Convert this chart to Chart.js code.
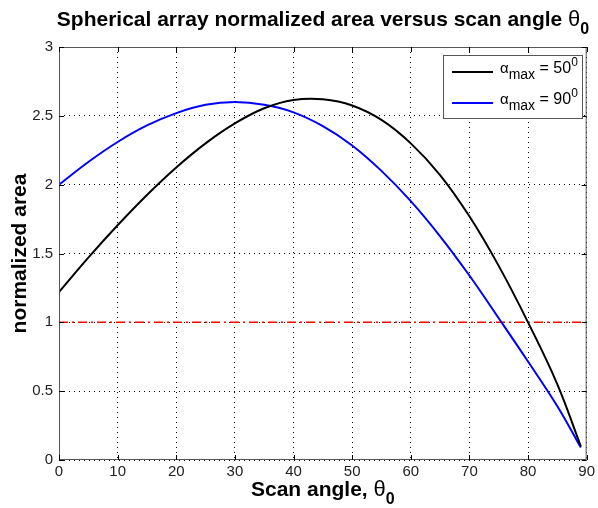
<!DOCTYPE html>
<html>
<head>
<meta charset="utf-8">
<script src="https://cdn.jsdelivr.net/npm/chart.js@4"></script>
<style>
  html, body { margin: 0; padding: 0; background: #fff; }
  #wrap { width: 598px; height: 508px; position: relative; }
</style>
</head>
<body>
<div id="wrap"><canvas id="chart" width="598" height="508"></canvas></div>
<script>
// Scan angle theta0 (degrees)
const angles = [0, 5, 10, 15, 20, 25, 30, 35, 40, 45, 50, 55, 60, 65, 70, 75, 80, 85, 89];
// normalized area, alpha_max = 50 deg
const area50 = [1.22, 1.47, 1.705, 1.925, 2.125, 2.30, 2.445, 2.555, 2.615, 2.62, 2.575, 2.47, 2.30, 2.07, 1.77, 1.41, 1.00, 0.55, 0.10];
// normalized area, alpha_max = 90 deg
const area90 = [2.00, 2.165, 2.31, 2.43, 2.52, 2.58, 2.60, 2.58, 2.525, 2.425, 2.285, 2.10, 1.88, 1.625, 1.34, 1.03, 0.715, 0.39, 0.09];
// reference level
const refAngles = [0, 90];
const refLevel = [1, 1];

const xTicks = [0, 10, 20, 30, 40, 50, 60, 70, 80, 90];
const yTicks = [0, 0.5, 1, 1.5, 2, 2.5, 3];
const legendLabels = ["50", "90"];

const FONT = "'Liberation Sans', Arial, sans-serif";

function pts(xs, ys) {
  return xs.map((x, i) => ({ x: x, y: ys[i] }));
}

// draws a run of text pieces, each with its own font and vertical shift
function richText(ctx, parts, x, y, align) {
  let total = 0;
  parts.forEach(p => { ctx.font = p.font; total += ctx.measureText(p.t).width; });
  let cx = align === "center" ? x - total / 2 : x;
  parts.forEach(p => {
    ctx.font = p.font;
    ctx.fillText(p.t, cx, y + (p.dy || 0));
    cx += ctx.measureText(p.t).width;
  });
}

const decorPlugin = {
  id: "decor",
  afterDraw(chart) {
    const ctx = chart.ctx;
    const a = chart.chartArea;
    const xs = chart.scales.x, ys = chart.scales.y;
    ctx.save();

    // frame
    ctx.strokeStyle = "#555";
    ctx.lineWidth = 1;
    ctx.setLineDash([]);
    ctx.strokeRect(a.left + 0.5, a.top + 0.5, a.right - a.left - 1, a.bottom - a.top - 1);

    // inward ticks
    ctx.strokeStyle = "#000";
    xTicks.forEach(v => {
      const px = Math.round(xs.getPixelForValue(v)) + 0.5;
      ctx.beginPath();
      ctx.moveTo(px, a.bottom); ctx.lineTo(px, a.bottom - 5);
      ctx.moveTo(px, a.top); ctx.lineTo(px, a.top + 5);
      ctx.stroke();
    });
    yTicks.forEach(v => {
      const py = Math.round(ys.getPixelForValue(v)) + 0.5;
      ctx.beginPath();
      ctx.moveTo(a.left, py); ctx.lineTo(a.left + 5, py);
      ctx.moveTo(a.right, py); ctx.lineTo(a.right - 5, py);
      ctx.stroke();
    });

    // title
    ctx.fillStyle = "#000";
    ctx.textBaseline = "alphabetic";
    ctx.textAlign = "left";
    richText(ctx, [
      { t: "Spherical array normalized area versus scan angle ", font: "bold 21px " + FONT },
      { t: "\u03b8", font: "22px " + FONT },
      { t: "0", font: "bold 16px " + FONT, dy: 8 }
    ], 323, 26, "center");

    // x axis title
    richText(ctx, [
      { t: "Scan angle, ", font: "bold 21px " + FONT },
      { t: "\u03b8", font: "22px " + FONT },
      { t: "0", font: "bold 16px " + FONT, dy: 8 }
    ], (a.left + a.right) / 2, 496, "center");

    // legend
    const lx = 443, ly = 55, lw = 139, lh = 63;
    ctx.fillStyle = "#fff";
    ctx.fillRect(lx, ly, lw, lh);
    ctx.strokeStyle = "#555";
    ctx.strokeRect(lx + 0.5, ly + 0.5, lw, lh);
    chart.data.datasets.slice(0, 2).forEach((ds, i) => {
      const y = ly + 17 + i * 31;
      ctx.strokeStyle = ds.borderColor;
      ctx.lineWidth = 2;
      ctx.beginPath();
      ctx.moveTo(lx + 9, y); ctx.lineTo(lx + 50, y);
      ctx.stroke();
      ctx.fillStyle = "#000";
      richText(ctx, [
        { t: "\u03b1", font: "15px " + FONT, dy: -1 },
        { t: "max", font: "14px " + FONT, dy: 5 },
        { t: " = " + legendLabels[i], font: "16px " + FONT, dy: -1 },
        { t: "0", font: "12px " + FONT, dy: -8 }
      ], lx + 57, y + 2, "left");
    });
    ctx.restore();
  }
};

new Chart(document.getElementById("chart"), {
  type: "line",
  data: {
    datasets: [
      {
        label: "alpha_max = 50",
        data: pts(angles, area50),
        borderColor: "#000000",
        borderWidth: 2,
        pointRadius: 0,
        tension: 0.4
      },
      {
        label: "alpha_max = 90",
        data: pts(angles, area90),
        borderColor: "#0000ff",
        borderWidth: 2,
        pointRadius: 0,
        tension: 0.4
      },
      {
        label: "unity",
        data: pts(refAngles, refLevel),
        borderColor: "#ff0000",
        borderWidth: 1.5,
        borderDash: [9, 4, 2, 4],
        pointRadius: 0,
        tension: 0
      }
    ]
  },
  options: {
    responsive: false,
    animation: false,
    layout: { padding: { left: 0, top: 47, right: 9, bottom: 0 } },
    plugins: {
      legend: { display: false },
      title: { display: false },
      tooltip: { enabled: false }
    },
    scales: {
      x: {
        type: "linear",
        min: 0,
        max: 90,
        afterFit(scale) { scale.height = 48; },
        afterBuildTicks(scale) { scale.ticks = xTicks.map(v => ({ value: v })); },
        ticks: {
          color: "#222",
          font: { family: FONT, size: 15 },
          padding: 3,
          maxRotation: 0
        },
        grid: { color: "#000", lineWidth: 1, drawTicks: false },
        border: { display: false, dash: [1, 4] }
      },
      y: {
        type: "linear",
        min: 0,
        max: 3,
        afterFit(scale) { scale.width = 59; },
        afterBuildTicks(scale) { scale.ticks = yTicks.map(v => ({ value: v })); },
        ticks: {
          color: "#222",
          font: { family: FONT, size: 15 },
          padding: 6,
          callback: v => String(v)
        },
        grid: { color: "#000", lineWidth: 1, drawTicks: false },
        border: { display: false, dash: [1, 4] },
        title: {
          display: true,
          text: "normalized area",
          color: "#000",
          font: { family: FONT, size: 21, weight: "bold" },
          padding: { top: 8, bottom: 4 }
        }
      }
    }
  },
  plugins: [decorPlugin]
});
</script>
</body>
</html>
